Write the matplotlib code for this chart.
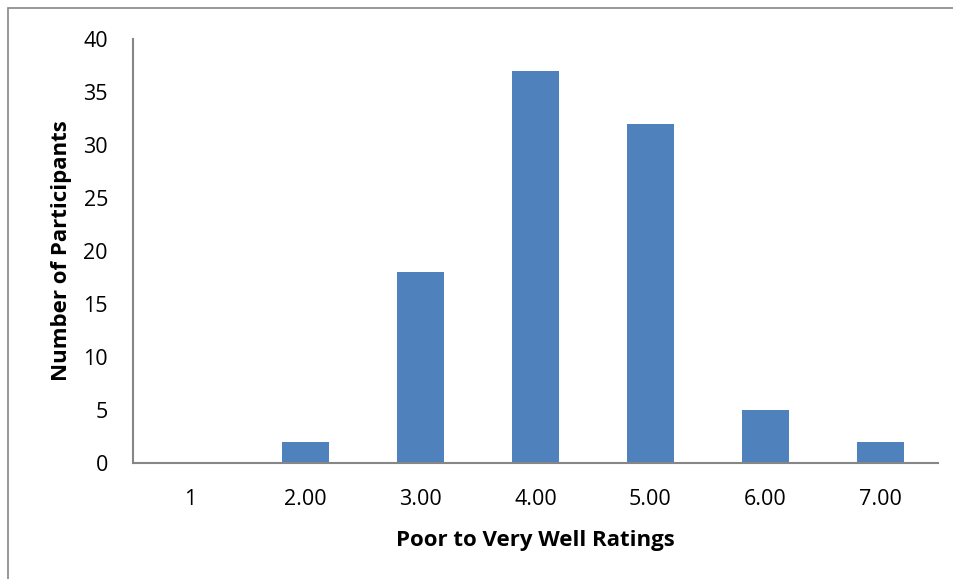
import matplotlib
matplotlib.use("Agg")
import matplotlib.pyplot as plt
from matplotlib.patches import Rectangle
import numpy as np

categories = ["1", "2.00", "3.00", "4.00", "5.00", "6.00", "7.00"]
counts = [0, 2, 18, 37, 32, 5, 2]

plt.rcParams['font.family'] = ['Open Sans', 'DejaVu Sans']

fig = plt.figure(figsize=(9.54, 5.79), dpi=100)
ax = fig.add_axes([0.1394, 0.2003, 0.8438, 0.7323])

x = np.arange(len(categories))
ax.bar(x, counts, width=0.41, color="#4F81BD")

ax.set_xlim(-0.5, len(categories) - 0.5)
ax.set_ylim(0, 40)
ax.set_yticks(range(0, 41, 5))
ax.set_xticks(x)
ax.set_xticklabels(categories)
ax.tick_params(length=0, labelsize=15.5, pad=19)
ax.tick_params(axis='y', pad=18)

for side in ["top", "right"]:
    ax.spines[side].set_visible(False)
for side in ["left", "bottom"]:
    ax.spines[side].set_color("#868686")
    ax.spines[side].set_linewidth(1.5)

ax.set_xlabel("Poor to Very Well Ratings", fontsize=16, fontweight="bold", labelpad=14)
ax.set_ylabel("Number of Participants", fontsize=16, fontweight="bold", labelpad=8)

# outer chart border
fig.patches.append(Rectangle((8 / 954, -0.1), 1.2, (579 - 8) / 579 + 0.1,
                             transform=fig.transFigure, fill=False,
                             edgecolor="#868686", linewidth=1.2))

fig.savefig("out.png", dpi=100)
